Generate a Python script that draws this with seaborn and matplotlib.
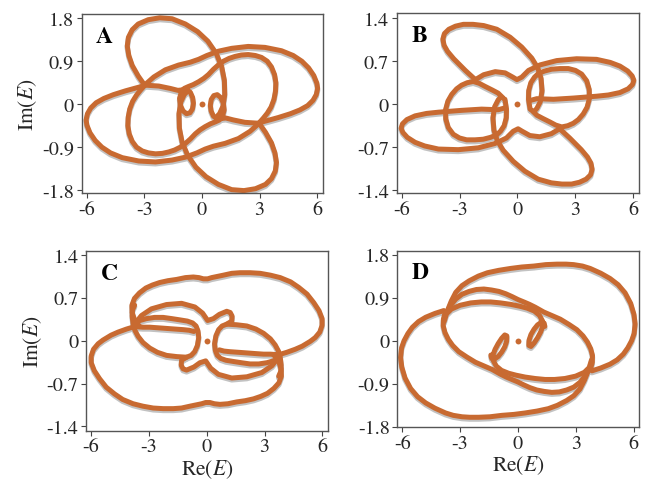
import matplotlib
matplotlib.use("Agg")
import matplotlib.pyplot as plt
import matplotlib.transforms as mtransforms
import pandas as pd
import seaborn as sns

# ---------------- data ----------------
x_ticks = [-6, -3, 0, 3, 6]
x_tick_labels = ["-6", "-3", "0", "3", "6"]
y_ticks_AD = [-1.8, -0.9, 0, 0.9, 1.8]
y_tick_labels_AD = ["-1.8", "-0.9", "0", "0.9", "1.8"]
y_ticks_BC = [-1.4, -0.7, 0, 0.7, 1.4]
y_tick_labels_BC = ["-1.4", "-0.7", "0", "0.7", "1.4"]

# Panel A strokes (Re E, Im E)
A_tl_lobe = [(-2.98, 0.40), (-3.31, 0.59), (-3.62, 0.81), (-3.80, 1.02), (-3.88, 1.22), (-3.82, 1.40), (-3.62, 1.56),
             (-3.31, 1.68), (-2.79, 1.77), (-2.19, 1.81), (-1.55, 1.79), (-0.86, 1.68), (-0.22, 1.52), (0.31, 1.32),
             (0.74, 1.07), (1.03, 0.79), (1.17, 0.50), (1.19, 0.20), (1.10, -0.04), (0.92, -0.20), (0.75, -0.27)]
A_br_lobe = [(2.98, -0.40), (3.31, -0.59), (3.62, -0.81), (3.80, -1.02), (3.88, -1.22), (3.82, -1.40), (3.62, -1.56),
             (3.31, -1.68), (2.79, -1.77), (2.19, -1.81), (1.55, -1.79), (0.86, -1.68), (0.22, -1.52), (-0.31, -1.32),
             (-0.74, -1.07), (-1.03, -0.79), (-1.17, -0.50), (-1.19, -0.20), (-1.10, 0.04), (-0.92, 0.20), (-0.75, 0.27)]
A_top_arc = [(-2.98, 0.40), (-2.50, 0.57), (-1.90, 0.72), (-1.21, 0.82), (-0.60, 0.88), (-0.17, 0.94), (0.26, 1.02),
             (0.86, 1.11), (1.55, 1.17), (2.41, 1.21), (3.28, 1.19), (4.14, 1.12), (4.75, 1.02), (5.20, 0.90),
             (5.55, 0.76), (5.82, 0.60), (5.98, 0.44), (6.02, 0.33), (5.95, 0.20), (5.78, 0.08), (5.50, -0.03),
             (5.10, -0.12), (4.60, -0.20), (3.97, -0.28), (2.98, -0.39)]
A_bot_arc = [(2.98, -0.40), (2.50, -0.57), (1.90, -0.72), (1.21, -0.82), (0.60, -0.88), (0.17, -0.94), (-0.26, -1.02),
             (-0.86, -1.11), (-1.55, -1.17), (-2.41, -1.21), (-3.28, -1.19), (-4.14, -1.12), (-4.75, -1.02),
             (-5.20, -0.90), (-5.55, -0.76), (-5.82, -0.60), (-5.98, -0.44), (-6.02, -0.33), (-5.95, -0.20),
             (-5.78, -0.08), (-5.50, 0.03), (-5.10, 0.12), (-4.60, 0.20), (-3.97, 0.28), (-2.98, 0.39)]
A_left_inner = [(-2.98, 0.40), (-2.24, 0.38), (-1.64, 0.33), (-1.25, 0.29), (-1.00, 0.30), (-0.78, 0.30), (-0.60, 0.25),
                (-0.48, 0.14), (-0.44, 0.02), (-0.49, -0.10), (-0.62, -0.18), (-0.80, -0.20), (-0.98, -0.14),
                (-1.12, -0.02), (-1.16, 0.12), (-1.08, 0.24), (-0.92, 0.33), (-0.70, 0.37), (-0.45, 0.41),
                (-0.17, 0.47), (0.10, 0.54), (0.34, 0.62), (0.60, 0.73), (0.85, 0.82), (1.12, 0.90), (1.42, 0.96),
                (1.72, 1.00), (2.05, 1.03), (2.41, 1.04), (2.78, 1.02), (3.10, 0.98), (3.40, 0.90), (3.62, 0.78),
                (3.78, 0.62), (3.85, 0.45), (3.83, 0.27), (3.75, 0.10), (3.60, -0.06), (3.40, -0.19), (3.20, -0.29),
                (2.98, -0.39)]
A_right_inner = [(2.98, -0.40), (2.24, -0.38), (1.64, -0.33), (1.25, -0.29), (1.00, -0.30), (0.78, -0.30), (0.60, -0.25),
                 (0.48, -0.14), (0.44, -0.02), (0.49, 0.10), (0.62, 0.18), (0.80, 0.20), (0.98, 0.14), (1.12, 0.02),
                 (1.16, -0.12), (1.08, -0.24), (0.92, -0.33), (0.70, -0.37), (0.45, -0.41), (0.17, -0.47),
                 (-0.10, -0.54), (-0.34, -0.62), (-0.60, -0.73), (-0.85, -0.82), (-1.12, -0.90), (-1.42, -0.96),
                 (-1.72, -1.00), (-2.05, -1.03), (-2.41, -1.04), (-2.78, -1.02), (-3.10, -0.98), (-3.40, -0.90),
                 (-3.62, -0.78), (-3.78, -0.62), (-3.85, -0.45), (-3.83, -0.27), (-3.75, -0.10), (-3.60, 0.06),
                 (-3.40, 0.19), (-3.20, 0.29), (-2.98, 0.39)]

# Panel B strokes
B_tl_lobe = [(-2.18, 0.40), (-2.70, 0.55), (-3.30, 0.74), (-3.62, 0.86), (-3.80, 0.96), (-3.86, 1.06), (-3.78, 1.15),
             (-3.55, 1.22), (-3.21, 1.27), (-2.80, 1.30), (-2.30, 1.30), (-1.75, 1.28), (-1.07, 1.22), (-0.38, 1.09),
             (0.22, 0.93), (0.74, 0.75), (1.05, 0.59), (1.22, 0.42), (1.27, 0.22), (1.18, 0.04), (1.00, -0.07),
             (0.85, -0.12)]
B_br_lobe = [(2.18, -0.40), (2.70, -0.55), (3.30, -0.74), (3.62, -0.86), (3.80, -0.96), (3.86, -1.06), (3.78, -1.15),
             (3.55, -1.22), (3.21, -1.27), (2.80, -1.30), (2.30, -1.30), (1.75, -1.28), (1.07, -1.22), (0.38, -1.09),
             (-0.22, -0.93), (-0.74, -0.75), (-1.05, -0.59), (-1.22, -0.42), (-1.27, -0.22), (-1.18, -0.04),
             (-1.00, 0.07), (-0.85, 0.12)]
B_top_arc = [(-2.18, 0.40), (-1.75, 0.48), (-1.15, 0.53), (-0.64, 0.51), (-0.24, 0.44), (-0.03, 0.40), (0.22, 0.44),
             (0.57, 0.55), (1.17, 0.64), (2.03, 0.71), (3.06, 0.74), (4.09, 0.73), (4.80, 0.68), (5.30, 0.62),
             (5.70, 0.54), (5.93, 0.46), (6.02, 0.39), (5.95, 0.32), (5.72, 0.25), (5.30, 0.19), (4.70, 0.15),
             (4.09, 0.13), (2.89, 0.10), (1.86, 0.08), (1.00, 0.09), (0.65, 0.06)]
B_bot_arc = [(2.18, -0.40), (1.75, -0.48), (1.15, -0.53), (0.64, -0.51), (0.24, -0.44), (0.03, -0.40), (-0.22, -0.44),
             (-0.57, -0.55), (-1.17, -0.64), (-2.03, -0.71), (-3.06, -0.74), (-4.09, -0.73), (-4.80, -0.68),
             (-5.30, -0.62), (-5.70, -0.54), (-5.93, -0.46), (-6.02, -0.39), (-5.95, -0.32), (-5.72, -0.25),
             (-5.30, -0.19), (-4.70, -0.15), (-4.09, -0.13), (-2.89, -0.10), (-1.86, -0.08), (-1.00, -0.09),
             (-0.65, -0.06)]
B_right_inner = [(0.65, -0.08), (0.57, 0.08), (0.58, 0.22), (0.69, 0.35), (0.88, 0.44), (1.08, 0.50), (1.40, 0.54),
                 (1.77, 0.57), (2.20, 0.58), (2.63, 0.58), (3.00, 0.55), (3.32, 0.49), (3.58, 0.38), (3.71, 0.24),
                 (3.72, 0.09), (3.60, -0.05), (3.40, -0.16), (3.15, -0.25), (2.89, -0.31), (2.60, -0.35),
                 (2.29, -0.37), (1.98, -0.34), (1.68, -0.29), (1.30, -0.23), (1.00, -0.18), (0.74, -0.10)]
B_left_inner = [(-0.65, 0.08), (-0.57, -0.08), (-0.58, -0.22), (-0.69, -0.35), (-0.88, -0.44), (-1.08, -0.50),
                (-1.40, -0.54), (-1.77, -0.57), (-2.20, -0.58), (-2.63, -0.58), (-3.00, -0.55), (-3.32, -0.49),
                (-3.58, -0.38), (-3.71, -0.24), (-3.72, -0.09), (-3.60, 0.05), (-3.40, 0.16), (-3.15, 0.25),
                (-2.89, 0.31), (-2.60, 0.35), (-2.29, 0.37), (-1.98, 0.34), (-1.68, 0.29), (-1.30, 0.23),
                (-1.00, 0.18), (-0.74, 0.10)]

# Panel C strokes
C_upper = [(-3.47, 0.23), (-3.72, 0.33), (-3.86, 0.46), (-3.87, 0.58), (-3.74, 0.69), (-3.48, 0.78), (-3.15, 0.86),
           (-2.80, 0.91), (-2.43, 0.95), (-2.00, 0.98), (-1.56, 1.00), (-1.10, 1.03), (-0.69, 1.04), (-0.40, 1.03),
           (-0.17, 1.01), (0.05, 1.01), (0.26, 1.03), (0.87, 1.07), (1.30, 1.10), (1.73, 1.11), (2.25, 1.11),
           (2.77, 1.10), (3.30, 1.07), (3.81, 1.03), (4.35, 0.96), (4.77, 0.87), (5.20, 0.76), (5.55, 0.62),
           (5.82, 0.49), (5.98, 0.36), (5.98, 0.25), (5.86, 0.14), (5.62, 0.05), (5.37, -0.01), (4.95, -0.09),
           (4.59, -0.14), (4.15, -0.19), (3.73, -0.23), (3.30, -0.22), (2.95, -0.22), (2.50, -0.21), (2.08, -0.20),
           (1.65, -0.19), (1.21, -0.18), (0.90, -0.17), (0.66, -0.15)]
C_lower = [(3.47, -0.23), (3.72, -0.33), (3.86, -0.46), (3.87, -0.58), (3.74, -0.69), (3.48, -0.78), (3.15, -0.86),
           (2.80, -0.91), (2.43, -0.95), (2.00, -0.98), (1.56, -1.00), (1.10, -1.03), (0.69, -1.04), (0.40, -1.03),
           (0.17, -1.01), (-0.05, -1.01), (-0.26, -1.03), (-0.87, -1.07), (-1.30, -1.10), (-1.73, -1.11),
           (-2.25, -1.11), (-2.77, -1.10), (-3.30, -1.07), (-3.81, -1.03), (-4.35, -0.96), (-4.77, -0.87),
           (-5.20, -0.76), (-5.55, -0.62), (-5.82, -0.49), (-5.98, -0.36), (-5.98, -0.25), (-5.86, -0.14),
           (-5.62, -0.05), (-5.37, 0.01), (-4.95, 0.09), (-4.59, 0.14), (-4.15, 0.19), (-3.73, 0.23), (-3.30, 0.22),
           (-2.95, 0.22), (-2.50, 0.21), (-2.08, 0.20), (-1.65, 0.19), (-1.21, 0.18), (-0.90, 0.17), (-0.66, 0.15)]
C_hat_top = [(-3.73, 0.27), (-3.38, 0.41), (-2.86, 0.52), (-2.08, 0.59), (-1.30, 0.61), (-0.61, 0.55), (-0.21, 0.45),
             (0.05, 0.33), (0.35, 0.36), (0.66, 0.43), (1.04, 0.48), (1.22, 0.46), (1.32, 0.40), (1.30, 0.32),
             (1.04, 0.27), (0.80, 0.24), (0.62, 0.18), (0.48, 0.08), (0.41, -0.05), (0.45, -0.16), (0.55, -0.24),
             (0.73, -0.29), (1.00, -0.32), (1.39, -0.34), (1.80, -0.36), (2.25, -0.38), (2.70, -0.38), (3.12, -0.36),
             (3.45, -0.33), (3.73, -0.30)]
C_hat_bottom = [(3.73, -0.27), (3.38, -0.41), (2.86, -0.52), (2.08, -0.59), (1.30, -0.61), (0.61, -0.55), (0.21, -0.45),
                (-0.05, -0.33), (-0.35, -0.36), (-0.66, -0.43), (-1.04, -0.48), (-1.22, -0.46), (-1.32, -0.40),
                (-1.30, -0.32), (-1.04, -0.27), (-0.80, -0.24), (-0.62, -0.18), (-0.48, -0.08), (-0.41, 0.05),
                (-0.45, 0.16), (-0.55, 0.24), (-0.73, 0.29), (-1.00, 0.32), (-1.39, 0.34), (-1.80, 0.36),
                (-2.25, 0.38), (-2.70, 0.38), (-3.12, 0.36), (-3.45, 0.33), (-3.73, 0.30)]
C_right_lobe = [(1.04, 0.27), (1.55, 0.26), (2.08, 0.24), (2.55, 0.19), (2.95, 0.12), (3.30, 0.03), (3.55, -0.07),
                (3.72, -0.17), (3.81, -0.27), (3.86, -0.40), (3.84, -0.50), (3.73, -0.58)]
C_left_lobe = [(-1.04, -0.27), (-1.55, -0.26), (-2.08, -0.24), (-2.55, -0.19), (-2.95, -0.12), (-3.30, -0.03),
               (-3.55, 0.07), (-3.72, 0.17), (-3.81, 0.27), (-3.86, 0.40), (-3.84, 0.50), (-3.73, 0.58)]

# Panel D strokes
D_upper = [(-3.65, 0.63), (-3.45, 0.83), (-3.22, 1.01), (-2.90, 1.15), (-2.53, 1.25), (-2.05, 1.35), (-1.58, 1.42),
           (-1.00, 1.47), (-0.38, 1.51), (0.20, 1.54), (0.83, 1.56), (1.45, 1.59), (2.03, 1.60), (2.50, 1.60),
           (2.89, 1.59), (3.35, 1.56), (3.75, 1.51), (4.30, 1.41), (4.78, 1.30), (5.20, 1.17), (5.56, 1.00),
           (5.85, 0.78), (6.02, 0.55), (6.08, 0.35), (6.03, 0.15), (5.90, 0.00), (5.70, -0.15), (5.47, -0.28),
           (5.15, -0.40), (4.78, -0.49), (4.30, -0.57), (3.84, -0.63)]
D_lower = [(3.65, -0.63), (3.45, -0.83), (3.22, -1.01), (2.90, -1.15), (2.53, -1.25), (2.05, -1.35), (1.58, -1.42),
           (1.00, -1.47), (0.38, -1.51), (-0.20, -1.54), (-0.83, -1.56), (-1.45, -1.59), (-2.03, -1.60),
           (-2.50, -1.60), (-2.89, -1.59), (-3.35, -1.56), (-3.75, -1.51), (-4.30, -1.41), (-4.78, -1.30),
           (-5.20, -1.17), (-5.56, -1.00), (-5.85, -0.78), (-6.02, -0.55), (-6.08, -0.35), (-6.03, -0.15),
           (-5.90, 0.00), (-5.70, 0.15), (-5.47, 0.28), (-5.15, 0.40), (-4.78, 0.49), (-4.30, 0.57), (-3.84, 0.63)]
D_arc_top = [(-3.73, 0.56), (-3.50, 0.73), (-3.22, 0.87), (-2.90, 0.97), (-2.53, 1.03), (-2.15, 1.07), (-1.76, 1.08),
             (-1.37, 1.06), (-0.98, 1.03), (-0.62, 0.98), (-0.29, 0.92), (0.01, 0.86), (0.31, 0.81), (0.60, 0.76),
             (0.90, 0.70), (1.34, 0.60), (1.80, 0.52), (2.20, 0.45), (2.65, 0.34), (3.06, 0.23), (3.38, 0.10),
             (3.61, -0.03), (3.78, -0.17), (3.87, -0.31), (3.86, -0.45), (3.79, -0.56)]
D_arc_bottom = [(3.73, -0.56), (3.50, -0.73), (3.22, -0.87), (2.90, -0.97), (2.53, -1.03), (2.15, -1.07), (1.76, -1.08),
                (1.37, -1.06), (0.98, -1.03), (0.62, -0.98), (0.29, -0.92), (-0.01, -0.86), (-0.31, -0.81),
                (-0.60, -0.76), (-0.90, -0.70), (-1.34, -0.60), (-1.80, -0.52), (-2.20, -0.45), (-2.65, -0.34),
                (-3.06, -0.23), (-3.38, -0.10), (-3.61, 0.03), (-3.78, 0.17), (-3.87, 0.31), (-3.86, 0.45),
                (-3.79, 0.56)]
D_loop_right = [(-3.82, 0.40), (-3.70, 0.56), (-3.45, 0.66), (-3.00, 0.74), (-2.44, 0.79), (-1.90, 0.81), (-1.41, 0.81),
                (-0.90, 0.79), (-0.38, 0.76), (0.10, 0.72), (0.48, 0.68), (0.85, 0.62), (1.12, 0.53), (1.27, 0.42),
                (1.29, 0.30), (1.18, 0.18), (1.02, 0.06), (0.84, -0.05), (0.68, -0.12), (0.57, -0.10), (0.58, 0.01),
                (0.68, 0.13), (0.84, 0.24), (1.02, 0.33), (1.20, 0.38), (1.36, 0.37), (1.40, 0.30)]
D_loop_left = [(3.82, -0.40), (3.70, -0.56), (3.45, -0.66), (3.00, -0.74), (2.44, -0.79), (1.90, -0.81), (1.41, -0.81),
               (0.90, -0.79), (0.38, -0.76), (-0.10, -0.72), (-0.48, -0.68), (-0.85, -0.62), (-1.12, -0.53),
               (-1.27, -0.42), (-1.29, -0.30), (-1.18, -0.18), (-1.02, -0.06), (-0.84, 0.05), (-0.68, 0.12),
               (-0.57, 0.10), (-0.58, -0.01), (-0.68, -0.13), (-0.84, -0.24), (-1.02, -0.33), (-1.20, -0.38),
               (-1.36, -0.37), (-1.40, -0.30)]

panels = {
    "A": [A_tl_lobe, A_br_lobe, A_top_arc, A_bot_arc, A_left_inner, A_right_inner],
    "B": [B_tl_lobe, B_br_lobe, B_top_arc, B_bot_arc, B_right_inner, B_left_inner],
    "C": [C_upper, C_lower, C_hat_top, C_hat_bottom, C_right_lobe, C_left_lobe],
    "D": [D_upper, D_lower, D_arc_top, D_arc_bottom, D_loop_right, D_loop_left],
}
zero_mode = (0.0, 0.0)

# ---------------- style ----------------
sns.set_theme(style="white")
plt.rcParams["font.family"] = ["STIXGeneral", "DejaVu Serif"]
plt.rcParams["mathtext.fontset"] = "stix"

ORANGE = "#c86a31"
GRAY = "#c2c2c2"

rects = {"A": [0.1253, 0.6033, 0.3701, 0.3661],
         "B": [0.6084, 0.6027, 0.3721, 0.3681],
         "C": [0.1319, 0.1172, 0.3716, 0.3669],
         "D": [0.6094, 0.1241, 0.3712, 0.3611]}
ylims = {"A": (-1.86, 1.89), "B": (-1.45, 1.48), "C": (-1.47, 1.46), "D": (-1.81, 1.88)}

fig = plt.figure(figsize=(6.52, 4.89), dpi=100)

for name, strokes in panels.items():
    ax = fig.add_axes(rects[name])
    rows = []
    for sid, stroke in enumerate(strokes):
        for order, (xv, yv) in enumerate(stroke):
            rows.append({"stroke": sid, "order": order, "re": xv, "im": yv})
    df = pd.DataFrame(rows)
    shift = ax.transData + mtransforms.ScaledTranslation(0, -1.3 / 72, fig.dpi_scale_trans)
    sns.lineplot(data=df, x="re", y="im", units="stroke", estimator=None, sort=False,
                 color=GRAY, lw=3.9, ax=ax, legend=False, transform=shift,
                 solid_capstyle="round", solid_joinstyle="round")
    sns.lineplot(data=df, x="re", y="im", units="stroke", estimator=None, sort=False,
                 color=ORANGE, lw=3.6, ax=ax, legend=False,
                 solid_capstyle="round", solid_joinstyle="round")
    sns.scatterplot(x=[zero_mode[0]], y=[zero_mode[1]], color=ORANGE, s=18, linewidth=0, ax=ax)

    ax.set_xlim(-6.25, 6.3)
    ax.set_ylim(*ylims[name])
    ax.set_xticks(x_ticks)
    ax.set_xticklabels(x_tick_labels)
    if name in ("A", "D"):
        ax.set_yticks(y_ticks_AD)
        ax.set_yticklabels(y_tick_labels_AD)
    else:
        ax.set_yticks(y_ticks_BC)
        ax.set_yticklabels(y_tick_labels_BC)
    ax.tick_params(axis="both", which="major", labelsize=14.5, length=3.5, width=0.8,
                   direction="out", color="#444444", pad=2, bottom=True, left=True)
    for sp in ax.spines.values():
        sp.set_color("#555555")
        sp.set_linewidth(1.0)
    ax.set_xlabel("")
    ax.set_ylabel("")
    ax.text(0.06, 0.935, name, transform=ax.transAxes, ha="left", va="top",
            fontsize=17, fontweight="bold", color="black")
    if name in ("A", "C"):
        ax.set_ylabel(r"$\mathrm{Im}(E)$", fontsize=15.5, labelpad=2)
    if name in ("C", "D"):
        ax.set_xlabel(r"$\mathrm{Re}(E)$", fontsize=15.5, labelpad=1)

fig.savefig("out.png", dpi=100)
